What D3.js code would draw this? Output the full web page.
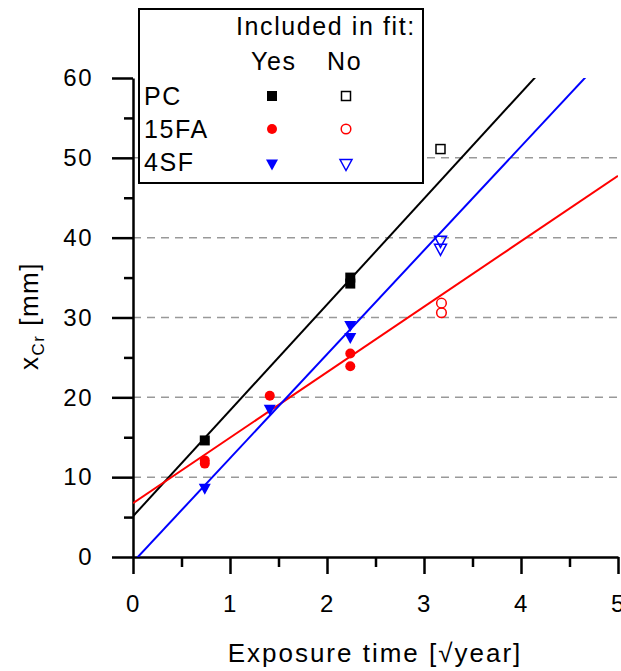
<!DOCTYPE html>
<html lang="en">
<head>
    <meta charset="UTF-8">
    <title>Exposure time vs x_Cr</title>
    <script src="https://d3js.org/d3.v7.min.js"></script>
    <style>
        body {
            margin: 0;
            background: white;
        }
        svg text {
            font-family: "Liberation Sans", Arial, sans-serif;
            fill: #000;
        }
        .axis path, .axis line {
            stroke: #000;
            stroke-width: 2.5;
        }
        .grid line {
            stroke: #999;
            stroke-width: 1.5;
            stroke-dasharray: 8 6;
        }
        .fit {
            fill: none;
            stroke-width: 2;
        }
    </style>
</head>
<body>
<div id="chart"></div>
<script>

// series names, colours and fitted lines (y = a + b*x)
const series = ["PC", "15FA", "4SF"];
const colors = ["#000000", "#ff0000", "#0000ff"];
const fitIntercept = [5.1, 6.75, -0.65];
const fitSlope = [13.26, 8.2, 13.02];

// points included in fit
const pcYesX = [0.74, 2.24, 2.24];
const pcYesY = [14.6, 35.0, 34.25];
const faYesX = [0.74, 0.74, 1.41, 2.24, 2.24];
const faYesY = [12.1, 11.7, 20.2, 25.5, 23.9];
const sfYesX = [0.74, 1.41, 2.24, 2.24];
const sfYesY = [8.6, 18.5, 29.0, 27.5];

// points not included in fit
const pcNoX = [3.17];
const pcNoY = [51.1];
const faNoX = [3.18, 3.18];
const faNoY = [31.8, 30.6];
const sfNoX = [3.17, 3.17];
const sfNoY = [39.6, 38.6];

const xTicks = [0, 1, 2, 3, 4, 5];
const yTicks = [0, 10, 20, 30, 40, 50, 60];
const gridValues = [10, 20, 30, 40, 50];

const W = 621, H = 671;
const svg = d3.select("#chart").append("svg")
    .attr("width", W)
    .attr("height", H);

const x = d3.scaleLinear().domain([0, 5]).range([133, 618]);
const y = d3.scaleLinear().domain([0, 60]).range([557, 78]);

// dashed grid
svg.append("g").attr("class", "grid")
    .selectAll("line")
    .data(gridValues)
    .enter().append("line")
    .attr("x1", x(0)).attr("x2", W)
    .attr("y1", d => y(d)).attr("y2", d => y(d));

// minor ticks
const minorX = d3.range(0.5, 5, 1);
const minorY = d3.range(5, 60, 10);
svg.append("g").attr("class", "axis")
    .attr("transform", `translate(0,${y(0)})`)
    .call(d3.axisBottom(x).tickValues(minorX).tickSize(10).tickFormat("").tickSizeOuter(0))
    .select(".domain").remove();
svg.append("g").attr("class", "axis")
    .attr("transform", `translate(${x(0)},0)`)
    .call(d3.axisLeft(y).tickValues(minorY).tickSize(9).tickFormat("").tickSizeOuter(0))
    .select(".domain").remove();

// major axes
svg.append("g").attr("class", "axis")
    .attr("transform", `translate(0,${y(0)})`)
    .call(d3.axisBottom(x).tickValues(xTicks).tickFormat(d3.format("d"))
        .tickSize(17).tickPadding(21).tickSizeOuter(0));
svg.append("g").attr("class", "axis")
    .attr("transform", `translate(${x(0)},0)`)
    .call(d3.axisLeft(y).tickValues(yTicks).tickFormat(d3.format("d"))
        .tickSize(21).tickPadding(19).tickSizeOuter(0));
svg.selectAll(".axis text")
    .style("font-size", "24px")
    .style("letter-spacing", "1.5px");

// fit lines, clipped to plot area
svg.append("clipPath").attr("id", "plotClip")
    .append("rect")
    .attr("x", x(0)).attr("y", y(60))
    .attr("width", x(5) - x(0)).attr("height", y(0) - y(60));

const line = d3.line().x(d => x(d[0])).y(d => y(d[1]));
series.forEach((s, i) => {
    const pts = [0, 5].map(t => [t, fitIntercept[i] + fitSlope[i] * t]);
    svg.append("path")
        .datum(pts)
        .attr("class", "fit")
        .attr("clip-path", "url(#plotClip)")
        .attr("stroke", colors[i])
        .attr("d", line);
});

// marker drawing
function drawMarker(g, shape, color, filled) {
    const fill = filled ? color : "none";
    const sw = filled ? 0 : 1.5;
    if (shape === "square") {
        const s = filled ? 10 : 9;
        g.append("rect")
            .attr("x", -s / 2).attr("y", -s / 2)
            .attr("width", s).attr("height", s)
            .attr("fill", fill).attr("stroke", color).attr("stroke-width", sw);
    } else if (shape === "circle") {
        g.append("circle")
            .attr("r", filled ? 5 : 4.8)
            .attr("fill", fill).attr("stroke", color).attr("stroke-width", sw);
    } else {
        g.append("path")
            .attr("d", "M-6,-4.5L6,-4.5L0,6.5Z")
            .attr("fill", fill).attr("stroke", color).attr("stroke-width", sw);
    }
}

const shapes = ["square", "circle", "triangle"];
const pointSets = [
    [pcYesX, pcYesY, pcNoX, pcNoY],
    [faYesX, faYesY, faNoX, faNoY],
    [sfYesX, sfYesY, sfNoX, sfNoY]
];
pointSets.forEach((set, i) => {
    set[0].forEach((v, j) => {
        const g = svg.append("g").attr("transform", `translate(${x(v)},${y(set[1][j])})`);
        drawMarker(g, shapes[i], colors[i], true);
    });
    set[2].forEach((v, j) => {
        const g = svg.append("g").attr("transform", `translate(${x(v)},${y(set[3][j])})`);
        drawMarker(g, shapes[i], colors[i], false);
    });
});

// axis titles
svg.append("text")
    .attr("x", 375).attr("y", 662)
    .attr("text-anchor", "middle")
    .style("font-size", "26px")
    .style("letter-spacing", "2px")
    .text("Exposure time [\u221Ayear]");

const yTitle = svg.append("text")
    .attr("transform", "translate(38,316) rotate(-90)")
    .attr("text-anchor", "middle")
    .style("font-size", "26px")
    .style("letter-spacing", "1.5px");
yTitle.append("tspan").text("x");
yTitle.append("tspan").attr("dy", 6).style("font-size", "17px").text("Cr");
yTitle.append("tspan").attr("dy", -6).text(" [mm]");

// legend
const legend = svg.append("g");
legend.append("rect")
    .attr("x", 139).attr("y", 9)
    .attr("width", 284).attr("height", 174)
    .attr("fill", "white")
    .attr("stroke", "#000")
    .attr("stroke-width", 2);

const legendText = (tx, ty, str) => legend.append("text")
    .attr("x", tx).attr("y", ty)
    .style("font-size", "25px")
    .style("letter-spacing", "1.6px")
    .text(str);

legendText(236, 35, "Included in fit:");
legendText(251, 70, "Yes");
legendText(327, 70, "No");

const rowY = [96, 129, 164];
const rowBase = [105, 138, 171];
series.forEach((s, i) => {
    legendText(144, rowBase[i], s);
    drawMarker(legend.append("g").attr("transform", `translate(272,${rowY[i]})`), shapes[i], colors[i], true);
    drawMarker(legend.append("g").attr("transform", `translate(346,${rowY[i]})`), shapes[i], colors[i], false);
});
</script>
</body>
</html>
